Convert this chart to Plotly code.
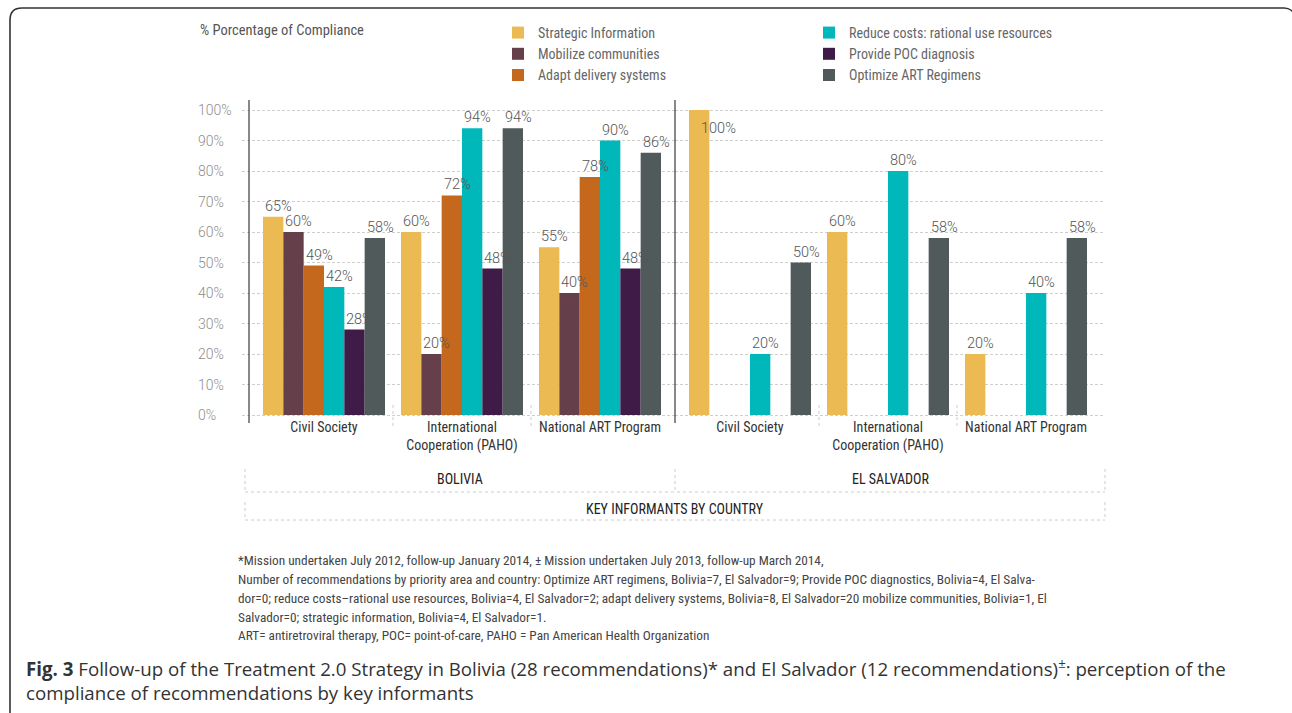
import plotly.graph_objects as go

W, H = 1292, 713

# ---------------- data ----------------
categories = ["Civil Society", "International<br>Cooperation (PAHO)", "National ART Program"]
countries = ["BOLIVIA", "EL SALVADOR"]
series_names = ["Strategic Information", "Mobilize communities", "Adapt delivery systems",
                "Reduce costs: rational use resources", "Provide POC diagnosis", "Optimize ART Regimens"]
series_colors = ["#EBBA53", "#65404A", "#C3681D", "#00B7B9", "#3E1C47", "#505A5B"]

bolivia_strategic = [65, 60, 55]
bolivia_mobilize = [60, 20, 40]
bolivia_adapt = [49, 72, 78]
bolivia_reduce = [42, 94, 90]
bolivia_poc = [28, 48, 48]
bolivia_art = [58, 94, 86]

salvador_strategic = [100, 60, 20]
salvador_mobilize = [None, None, None]
salvador_adapt = [None, None, None]
salvador_reduce = [20, 80, 40]
salvador_poc = [None, None, None]
salvador_art = [50, 58, 58]

y_tick_values = [0, 10, 20, 30, 40, 50, 60, 70, 80, 90, 100]
y_tick_labels = ["0%", "10%", "20%", "30%", "40%", "50%", "60%", "70%", "80%", "90%", "100%"]

footnote_lines = [
    "*Mission undertaken July 2012, follow-up January 2014, \u00b1 Mission undertaken July 2013, follow-up March 2014,",
    "Number of recommendations by priority area and country: Optimize ART regimens, Bolivia=7, El Salvador=9; Provide POC diagnostics, Bolivia=4, El Salva-",
    "dor=0; reduce costs\u2013rational use resources, Bolivia=4, El Salvador=2; adapt delivery systems, Bolivia=8, El Salvador=20 mobilize communities, Bolivia=1, El",
    "Salvador=0; strategic information, Bolivia=4, El Salvador=1.",
    "ART= antiretroviral therapy, POC= point-of-care, PAHO = Pan American Health Organization",
]
caption = ("<b>Fig. 3</b> Follow-up of the Treatment 2.0 Strategy in Bolivia (28 recommendations)* and "
           "El Salvador (12 recommendations)<sup>\u00b1</sup>: perception of the<br>"
           "compliance of recommendations by key informants")

bolivia = [bolivia_strategic, bolivia_mobilize, bolivia_adapt, bolivia_reduce, bolivia_poc, bolivia_art]
salvador = [salvador_strategic, salvador_mobilize, salvador_adapt, salvador_reduce, salvador_poc, salvador_art]

# ---------------- style / layout helpers ----------------
COND = "Liberation Sans Narrow, Roboto Condensed, Roboto, sans-serif"
NUMF = "Roboto, sans-serif"
CAPF = "Open Sans, Noto Sans, sans-serif"


def px(x):
    return x / W


def py(y):
    return 1 - y / H


SLOT = 138.0           # pixel width of one category slot
BARGAP = 0.116
PX_PER_UNIT = 3.05
Y_TOP_PX, Y_BOT_PX, Y0_PX = 100, 423, 415
y_range = [-(Y_BOT_PX - Y0_PX) / PX_PER_UNIT, 100 + (110 - Y_TOP_PX) / PX_PER_UNIT]

fig = go.Figure()

for i, name in enumerate(series_names):
    leg = "legend" if i < 3 else "legend2"
    fig.add_trace(go.Bar(x=categories, y=bolivia[i], name=name, marker_color=series_colors[i],
                         marker_line_width=0, xaxis="x", yaxis="y", legend=leg,
                         legendgroup=name, hoverinfo="skip"))
for i, name in enumerate(series_names):
    fig.add_trace(go.Bar(x=categories, y=salvador[i], name=name, marker_color=series_colors[i],
                         marker_line_width=0, xaxis="x2", yaxis="y2", showlegend=False,
                         legendgroup=name, hoverinfo="skip"))

annotations = []
group_w = (1 - BARGAP) * SLOT
bar_w = group_w / 6
label_font = dict(family=NUMF, size=14.5, color="#555", weight=300)
for xref, data in (("x", bolivia), ("x2", salvador)):
    for i, vals in enumerate(data):
        for j, v in enumerate(vals):
            if v is None:
                continue
            xs = -group_w / 2 + i * bar_w
            if v + 6 > y_range[1]:
                annotations.append(dict(x=categories[j], y=v, xref=xref, yref="y", text=f"{v}%",
                                        showarrow=False, xanchor="left", yanchor="top",
                                        xshift=xs + 10, yshift=-8, font=label_font))
            else:
                annotations.append(dict(x=categories[j], y=v, xref=xref, yref="y", text=f"{v}%",
                                        showarrow=False, xanchor="left", yanchor="bottom",
                                        xshift=xs, yshift=0, font=label_font))

# y tick labels (left aligned)
for v, t in zip(y_tick_values, y_tick_labels):
    annotations.append(dict(x=px(196), y=v, xref="paper", yref="y", text=t, showarrow=False,
                            xanchor="left", yanchor="middle",
                            font=dict(family=NUMF, size=14, color="#8e8e8e", weight=300)))

annotations.append(dict(x=px(198), y=py(31), xref="paper", yref="paper", text="% Porcentage of Compliance",
                        showarrow=False, xanchor="left", yanchor="middle",
                        font=dict(family=COND, size=14.5, color="#555")))

# country + group labels
annotations.append(dict(x=px(460), y=py(479), xref="paper", yref="paper", text=countries[0], showarrow=False,
                        xanchor="center", yanchor="middle",
                        font=dict(family=COND, size=14, color="#222")))
annotations.append(dict(x=px(890), y=py(479), xref="paper", yref="paper", text=countries[1], showarrow=False,
                        xanchor="center", yanchor="middle",
                        font=dict(family=COND, size=14, color="#222")))
annotations.append(dict(x=px(675), y=py(509), xref="paper", yref="paper", text="KEY INFORMANTS BY COUNTRY",
                        showarrow=False, xanchor="center", yanchor="middle",
                        font=dict(family=COND, size=14, color="#222")))

footnote_y = [560, 579, 598, 617, 635]
for line, yy in zip(footnote_lines, footnote_y):
    annotations.append(dict(x=px(236), y=py(yy), xref="paper", yref="paper", text=line, showarrow=False,
                            xanchor="left", yanchor="middle",
                            font=dict(family=COND, size=13.3, color="#444")))

annotations.append(dict(x=px(24), y=py(652), xref="paper", yref="paper", text=caption, showarrow=False,
                        xanchor="left", yanchor="top", align="left",
                        font=dict(family=CAPF, size=18.7, color="#333")))

# shapes
shapes = []
line_dark = dict(color="#3a3a3a", width=1.2)
light = dict(color="#cccccc", width=1, dash="dot")
for xx in (249, 675):
    shapes.append(dict(type="line", xref="paper", yref="paper", x0=px(xx), x1=px(xx),
                       y0=py(Y_TOP_PX), y1=py(Y_BOT_PX), line=line_dark))
for xref in ("x", "x2"):
    for b in (0.5, 1.5):
        shapes.append(dict(type="line", xref=xref, yref="paper", x0=b, x1=b,
                           y0=py(405), y1=py(426), line=light))
# country bracket
shapes.append(dict(type="line", xref="paper", yref="paper", x0=px(245), x1=px(1105), y0=py(492), y1=py(492), line=light))
for xx in (245, 675, 1105):
    shapes.append(dict(type="line", xref="paper", yref="paper", x0=px(xx), x1=px(xx), y0=py(469), y1=py(492), line=light))
# key informants bracket
shapes.append(dict(type="line", xref="paper", yref="paper", x0=px(245), x1=px(1105), y0=py(520), y1=py(520), line=light))
for xx in (245, 1105):
    shapes.append(dict(type="line", xref="paper", yref="paper", x0=px(xx), x1=px(xx), y0=py(502), y1=py(520), line=light))

# outer frame (rounded)
frame = (f"M {px(10)},{py(713)} L {px(10)},{py(20)} Q {px(10)},{py(8)} {px(22)},{py(8)} "
         f"L {px(1284)},{py(8)} Q {px(1290)},{py(8)} {px(1294)},{py(13)}")
shapes.append(dict(type="path", xref="paper", yref="paper", path=frame, line=dict(color="#333", width=1.6)))

grid_common = dict(showgrid=True, gridcolor="#cfcfcf", griddash="3px,2px", gridwidth=1,
                   tickvals=y_tick_values, showticklabels=False, zeroline=False, showline=False,
                   range=y_range, domain=[py(Y_BOT_PX), py(Y_TOP_PX)], fixedrange=True)

xaxis_common = dict(showgrid=False, zeroline=False, showline=False, ticks="", ticklabelstandoff=-6,
                    tickfont=dict(family=COND, size=14, color="#333"), fixedrange=True)

legend_common = dict(xanchor="left", yanchor="top", orientation="v",
                     bgcolor="rgba(0,0,0,0)", font=dict(family=COND, size=14, color="#666"),
                     tracegroupgap=0, itemclick=False, itemdoubleclick=False)

fig.update_layout(
    width=W, height=H,
    margin=dict(l=0, r=0, t=0, b=0),
    paper_bgcolor="white", plot_bgcolor="white",
    barmode="group", bargap=BARGAP, bargroupgap=0,
    xaxis=dict(domain=[px(242), px(675)], range=[-0.5 - 13 / SLOT, 2.5 + 6 / SLOT], anchor="y", **xaxis_common),
    xaxis2=dict(domain=[px(675), px(1105)], range=[-0.5 - 6 / SLOT, 2.5 + 10 / SLOT], anchor="y2", **xaxis_common),
    yaxis=dict(anchor="x", **grid_common),
    yaxis2=dict(anchor="x2", matches="y", **grid_common),
    showlegend=True,
    legend=dict(x=px(498), y=py(17), **legend_common),
    legend2=dict(x=px(809), y=py(17), **legend_common),
    annotations=annotations,
    shapes=shapes,
)

fig.write_html("out.html")
